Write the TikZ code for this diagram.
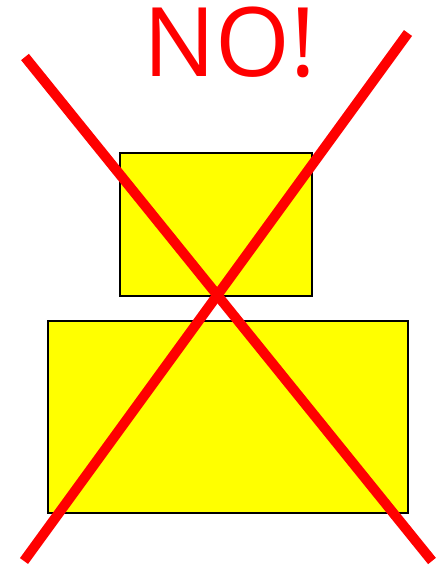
\documentclass[tikz,border=0pt]{standalone}
\usepackage{fontspec}
\setmainfont{Open Sans}
\usepackage{xcolor}
\usepackage{tikz}
\usetikzlibrary{positioning}
\definecolor{boxyellow}{RGB}{255,255,0}
\definecolor{nored}{RGB}{255,0,0}

\begin{document}
\begin{tikzpicture}[x=1pt, y=-1pt,
    block/.style={draw=black, line width=2pt, fill=boxyellow, inner sep=0pt},
    cross/.style={draw=nored, line width=10pt}]
    \useasboundingbox (0,0) rectangle (444,566);

    % Boxes
    \node[block, minimum width=192pt, minimum height=143pt] (upper) at (216,224.5) {};
    \node[block, minimum width=360pt, minimum height=192pt] (lower) at (228,417) {};

    % Label
    \node[anchor=base, inner sep=0pt, text=nored, font=\fontsize{96}{96}\selectfont] (no) at (230,76) {NO!};

    % Cross
    \coordinate (tl) at (25,57);
    \coordinate (br) at (432,561);
    \coordinate (tr) at (408,33);
    \coordinate (bl) at (24,561);
    \draw[cross] (tl) -- (br);
    \draw[cross] (tr) -- (bl);
\end{tikzpicture}
\end{document}
